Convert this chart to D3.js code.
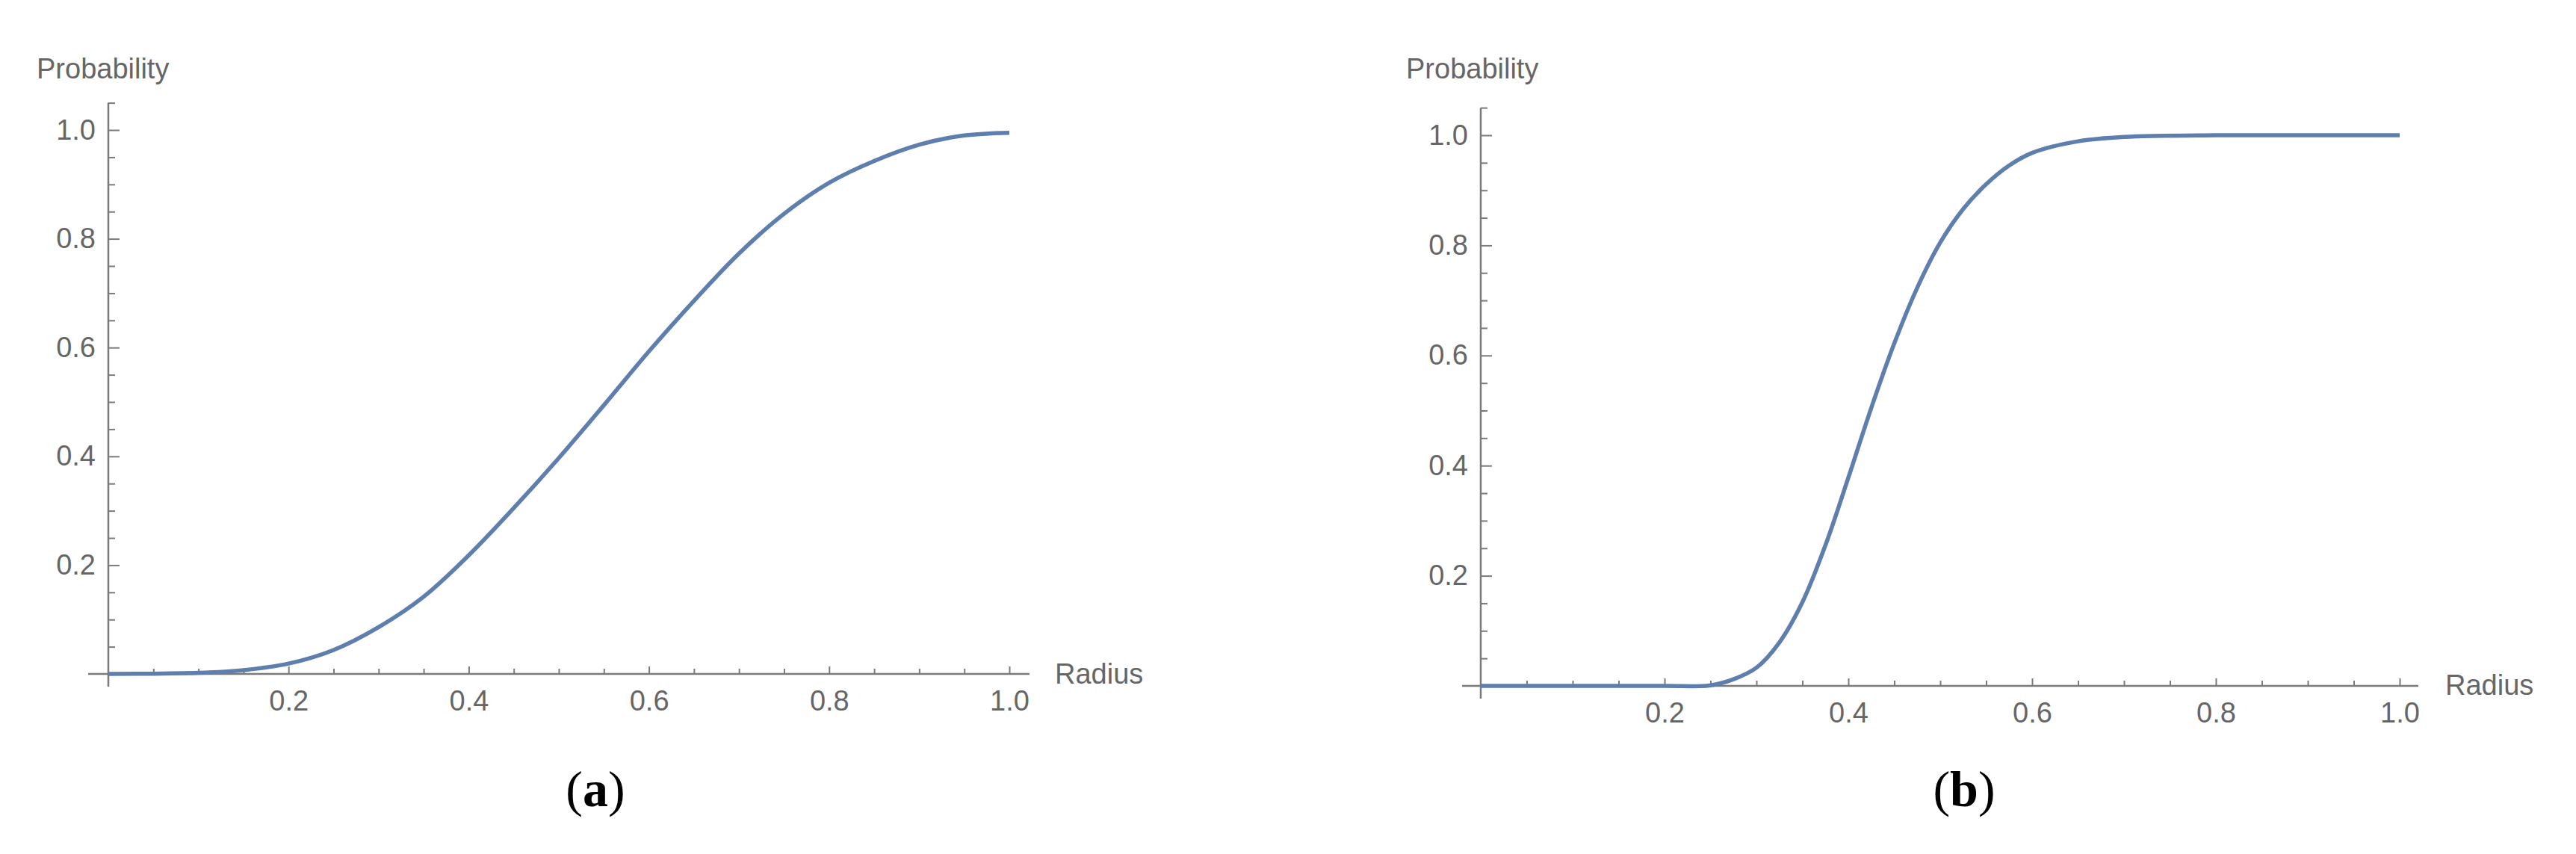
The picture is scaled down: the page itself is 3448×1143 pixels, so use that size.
<!DOCTYPE html>
<html><head><meta charset="utf-8">
<script src="https://cdn.jsdelivr.net/npm/d3@7"></script>
<style>body{margin:0;background:#fff}</style></head>
<body><svg id="c" width="3448" height="1143"></svg>
<script>
const radiusA = [0,0.05,0.1,0.15,0.2,0.25,0.3,0.35,0.4,0.45,0.5,0.55,0.6,0.65,0.7,0.75,0.8,0.85,0.9,0.95,1.0];
const probA   = [0,0.0005,0.002,0.007,0.019,0.044,0.086,0.142,0.218,0.305,0.397,0.494,0.593,0.686,0.773,0.846,0.903,0.943,0.973,0.99,0.995];
const radiusB = [0,0.1,0.2,0.25,0.275,0.3,0.325,0.35,0.375,0.4,0.425,0.45,0.475,0.5,0.525,0.55,0.575,0.6,0.65,0.7,0.8,0.9,1.0];
const probB   = [0,0,0,0.001,0.012,0.033,0.079,0.152,0.255,0.378,0.505,0.622,0.723,0.805,0.866,0.911,0.945,0.968,0.989,0.997,1.0,1.0,1.0];
const xMajor = [0.2,0.4,0.6,0.8,1.0];
const yMajor = [0.2,0.4,0.6,0.8,1.0];
const panelLabels = ["(a)","(b)"];

const svg = d3.select("#c");
const axisCol = "#7a7a7a", textCol = "#666";
const panels = [
  {xs: radiusA, ys: probA, x0:145, x1:1351, y0:902, y1:174, xl:1378, xlStart:118, probX:49, radX:1412, radY:915, labX:797},
  {xs: radiusB, ys: probB, x0:1982, x1:3212, y0:918, y1:181, xl:3237, xlStart:1957, probX:1882, radX:3273, radY:930, labX:2629}
];
const minors = d3.range(0,21).map(i=>i*0.05).filter(v=>Math.abs(v*5-Math.round(v*5))>1e-6 && v>0);
const yMinors = d3.range(1,22).map(i=>i*0.05).filter(v=>Math.abs(v*5-Math.round(v*5))>1e-6);

panels.forEach((p,i)=>{
  const x = d3.scaleLinear().domain([0,1]).range([p.x0,p.x1]);
  const y = d3.scaleLinear().domain([0,1]).range([p.y0,p.y1]);
  const g = svg.append("g");
  g.append("line").attr("x1",p.xlStart).attr("x2",p.xl).attr("y1",y(0)).attr("y2",y(0)).attr("stroke",axisCol).attr("stroke-width",2.5);
  g.append("line").attr("x1",x(0)).attr("x2",x(0)).attr("y1",y(1.05)).attr("y2",y(0)+17).attr("stroke",axisCol).attr("stroke-width",2.5);
  const xa = g.append("g").attr("transform",`translate(0,${y(0)})`)
    .call(d3.axisBottom(x).tickValues(xMajor).tickSize(-10).tickPadding(22).tickFormat(d3.format(".1f")));
  const xm = g.append("g").attr("transform",`translate(0,${y(0)})`)
    .call(d3.axisBottom(x).tickValues(minors).tickSize(-7).tickFormat(""));
  const ya = g.append("g").attr("transform",`translate(${x(0)},0)`)
    .call(d3.axisLeft(y).tickValues(yMajor).tickSize(-15).tickPadding(17).tickFormat(d3.format(".1f")));
  const ym = g.append("g").attr("transform",`translate(${x(0)},0)`)
    .call(d3.axisLeft(y).tickValues(yMinors).tickSize(-9).tickFormat(""));
  [xa,xm,ya,ym].forEach(a=>{
    a.select(".domain").remove();
    a.selectAll("line").attr("stroke",axisCol).attr("stroke-width",2);
    a.selectAll("text").attr("fill",textCol).style("font-family","'Liberation Sans',Arial,sans-serif").style("font-size","38px");
  });
  g.append("path").datum(p.xs.map((v,k)=>[v,p.ys[k]]))
    .attr("d", d3.line().x(d=>x(d[0])).y(d=>y(d[1])).curve(d3.curveCatmullRom.alpha(0.5)))
    .attr("fill","none").attr("stroke","#5e7fae").attr("stroke-width",5.5).attr("stroke-linejoin","round");
  g.append("text").attr("x",p.probX).attr("y",105).text("Probability")
    .attr("fill",textCol).style("font-family","'Liberation Sans',Arial,sans-serif").style("font-size","38px");
  g.append("text").attr("x",p.radX).attr("y",p.radY).text("Radius")
    .attr("fill",textCol).style("font-family","'Liberation Sans',Arial,sans-serif").style("font-size","38px");
  const t = g.append("text").attr("x",p.labX).attr("y",1079).attr("text-anchor","middle")
    .style("font-family","'Liberation Serif','Times New Roman',serif").style("font-size","68px").attr("fill","#000");
  const s = panelLabels[i];
  t.append("tspan").text(s[0]);
  t.append("tspan").attr("font-weight","bold").text(s.slice(1,-1));
  t.append("tspan").text(s.slice(-1));
});
</script></body></html>
